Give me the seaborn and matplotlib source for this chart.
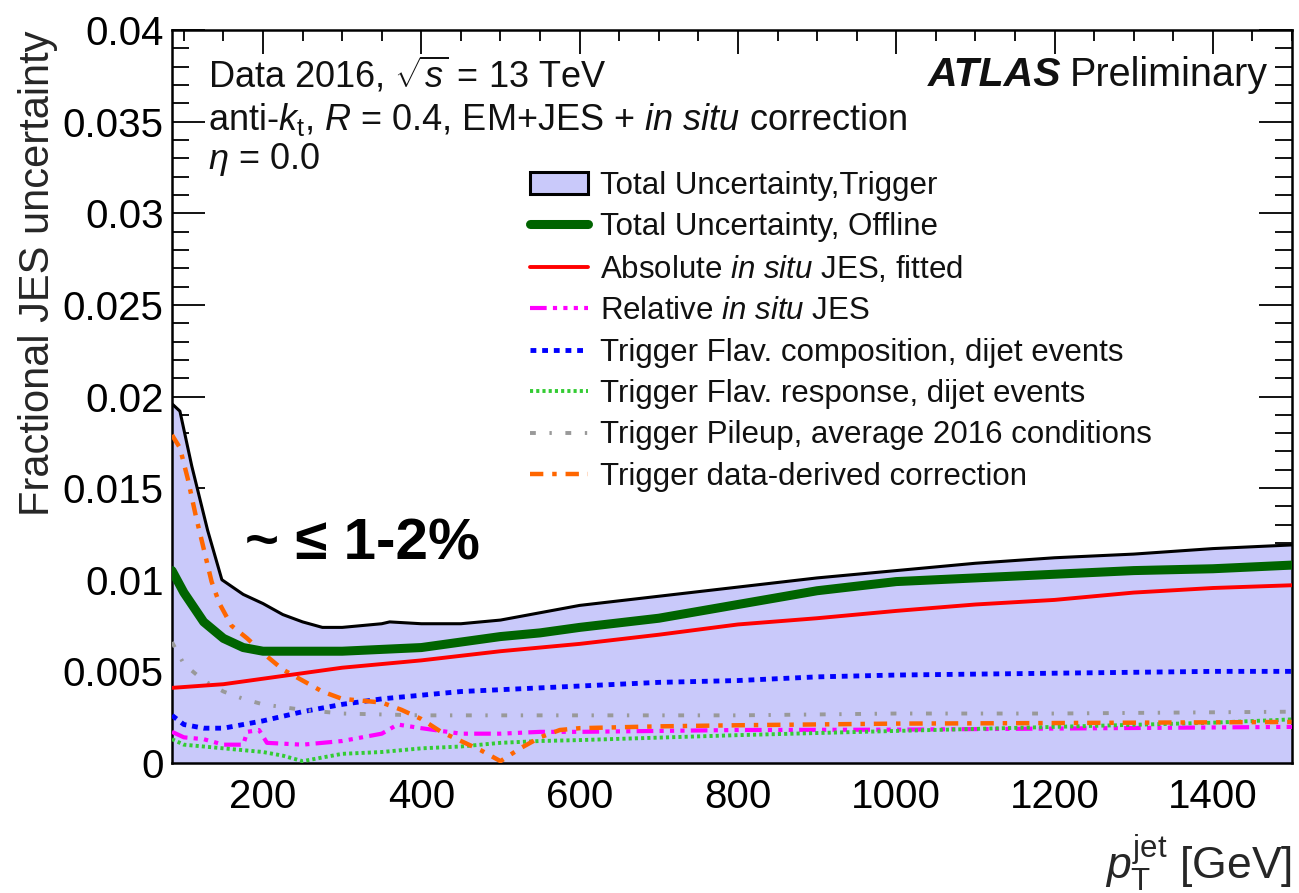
import matplotlib
matplotlib.use("Agg")
import matplotlib.pyplot as plt
import seaborn as sns
import numpy as np
import pandas as pd
from matplotlib.ticker import MultipleLocator
from matplotlib.patches import Patch
from matplotlib.lines import Line2D

# ---------------- data ----------------
pt_trig = [85, 95, 110, 130, 148, 175, 200, 225, 250, 275, 300, 325, 350, 360, 400, 450, 500, 550,
           600, 700, 800, 900, 1000, 1100, 1200, 1300, 1400, 1500]
total_trigger = [0.0196, 0.0192, 0.0162, 0.0127, 0.0100, 0.0092, 0.0087, 0.0081, 0.0077, 0.0074, 0.0074,
                 0.0075, 0.0076, 0.0077, 0.0076, 0.0076, 0.0078, 0.0082, 0.0086, 0.0091, 0.0096, 0.0101,
                 0.0105, 0.0109, 0.0112, 0.0114, 0.0117, 0.0119]

pt_off = [85, 100, 125, 150, 175, 200, 250, 300, 350, 400, 450, 500, 550, 600, 700, 800, 900, 1000,
          1100, 1200, 1300, 1400, 1500]
total_offline = [0.0105, 0.0093, 0.0077, 0.0068, 0.0063, 0.0061, 0.0061, 0.0061, 0.0062, 0.0063, 0.0066,
                 0.0069, 0.0071, 0.0074, 0.0079, 0.00865, 0.0094, 0.0099, 0.0101, 0.0103, 0.0105, 0.0106,
                 0.0108]

pt_abs = [85, 150, 200, 300, 400, 500, 600, 700, 800, 900, 1000, 1100, 1200, 1300, 1400, 1500]
abs_insitu = [0.0041, 0.0043, 0.0046, 0.0052, 0.0056, 0.0061, 0.0065, 0.0070, 0.00756, 0.0079, 0.0083,
              0.00865, 0.0089, 0.0093, 0.00955, 0.0097]

pt_rel = [85, 100, 125, 150, 175, 180, 195, 205, 250, 300, 350, 370, 400, 450, 500, 550, 600, 800,
          1000, 1200, 1500]
rel_insitu = [0.0017, 0.0014, 0.0013, 0.0010, 0.0010, 0.0017, 0.0018, 0.0011, 0.0010, 0.0012, 0.0016,
              0.0021, 0.0019, 0.0016, 0.0016, 0.0017, 0.0017, 0.0018, 0.00182, 0.00188, 0.00197]

pt_comp = [85, 100, 125, 150, 175, 200, 250, 300, 350, 400, 450, 500, 550, 600, 700, 800, 900, 1000,
           1200, 1400, 1500]
flav_comp = [0.0026, 0.0021, 0.0019, 0.0019, 0.0021, 0.0023, 0.0028, 0.0032, 0.0035, 0.0037, 0.0039,
             0.0040, 0.0041, 0.0042, 0.0044, 0.0045, 0.0047, 0.0048, 0.0049, 0.0050, 0.0050]

pt_resp = [85, 100, 150, 200, 225, 250, 275, 300, 350, 400, 450, 500, 550, 600, 800, 1000, 1200, 1400, 1500]
flav_resp = [0.0013, 0.0010, 0.0008, 0.0006, 0.0004, 0.0001, 0.0003, 0.0005, 0.0006, 0.0008, 0.0009,
             0.0011, 0.0012, 0.00125, 0.00152, 0.00175, 0.00197, 0.0022, 0.00238]

pt_pu = [85, 100, 125, 150, 175, 200, 250, 300, 400, 600, 800, 1000, 1200, 1500]
pileup = [0.0066, 0.0054, 0.0045, 0.0039, 0.0035, 0.0032, 0.0029, 0.0027, 0.0026, 0.0026, 0.0026,
          0.0027, 0.0027, 0.0028]

pt_dd = [85, 95, 105, 115, 125, 135, 145, 160, 180, 200, 225, 250, 275, 300, 325, 350, 375, 400, 425,
         450, 475, 500, 525, 550, 575, 600, 700, 800, 1000, 1200, 1500]
data_derived = [0.0179, 0.0172, 0.0155, 0.0135, 0.0117, 0.0099, 0.0087, 0.0075, 0.0068, 0.0060, 0.0051,
                0.0045, 0.0039, 0.0035, 0.0034, 0.0033, 0.0029, 0.0024, 0.0017, 0.0012, 0.0007, 0.0001,
                0.0008, 0.0014, 0.0018, 0.0019, 0.0020, 0.00206, 0.00215, 0.00218, 0.00224]

legend_labels = [
    "Total Uncertainty,Trigger",
    "Total Uncertainty, Offline",
    r"Absolute $\mathit{in\ situ}$ JES, fitted",
    r"Relative $\mathit{in\ situ}$ JES",
    "Trigger Flav. composition, dijet events",
    "Trigger Flav. response, dijet events",
    "Trigger Pileup, average 2016 conditions",
    "Trigger data-derived correction",
]
ytick_labels = ["0", "0.005", "0.01", "0.015", "0.02", "0.025", "0.03", "0.035", "0.04"]

# ---------------- style ----------------
sns.set_theme(style="ticks")
plt.rcParams["font.family"] = ["Liberation Sans", "DejaVu Sans"]
plt.rcParams["mathtext.fontset"] = "custom"
plt.rcParams["mathtext.rm"] = "Liberation Sans"
plt.rcParams["mathtext.it"] = "Liberation Sans:italic"
plt.rcParams["mathtext.bf"] = "Liberation Sans:bold"
plt.rcParams["mathtext.sf"] = "Liberation Sans"

W, H = 1299, 893
fig = plt.figure(figsize=(W / 100, H / 100), dpi=100)
L, R, T, B = 172, 1292, 30, 763
ax = fig.add_axes([L / W, 1 - B / H, (R - L) / W, (B - T) / H])


def ax_x(px):
    return (px - L) / (R - L)


def ax_y(py):
    return (B - py) / (B - T)


FILL = "#c9c9fa"

# Trigger total band
ax.fill_between(pt_trig, 0, total_trigger, color=FILL, lw=0, zorder=1)
sns.lineplot(x=pt_trig, y=total_trigger, ax=ax, color="black", lw=2.2, zorder=3)

styles = [
    (pt_off, total_offline, "#006400", 6.5, "-"),
    (pt_abs, abs_insitu, "#ff0000", 2.8, "-"),
    (pt_rel, rel_insitu, "#ff00ff", 3.0, (0, (4, 1.5, 1, 1.5, 1, 1.5, 1, 1.5))),
    (pt_comp, flav_comp, "#0000ff", 3.5, (0, (1.2, 1.2))),
    (pt_resp, flav_resp, "#33cc33", 2.8, (0, (0.8, 0.8))),
    (pt_pu, pileup, "#999999", 2.8, (0, (1.5, 3.5, 0.6, 3.5))),
    (pt_dd, data_derived, "#ff6600", 3.2, (0, (3, 2, 1, 2))),
]
order_z = [6, 5, 4, 4, 4, 4, 4]
for (x, y, c, lw, ls), z in zip(styles, order_z):
    df = pd.DataFrame({"pt": x, "v": y})
    line = sns.lineplot(data=df, x="pt", y="v", ax=ax, color=c, lw=lw, zorder=z)
    line.lines[-1].set_linestyle(ls)

ax.set_xlim(85, 1500)
ax.set_ylim(0, 0.04)
ax.xaxis.set_major_locator(MultipleLocator(200))
ax.xaxis.set_minor_locator(MultipleLocator(50))
ax.yaxis.set_minor_locator(MultipleLocator(0.001))
ax.set_yticks([0, 0.005, 0.01, 0.015, 0.02, 0.025, 0.03, 0.035, 0.04])
ax.set_yticklabels(ytick_labels)
ax.tick_params(axis="both", which="both", direction="in", top=True, right=True, colors="black",
               labelsize=29)
ax.tick_params(axis="y", which="major", length=24, width=1.3, pad=6)
ax.tick_params(axis="y", which="minor", length=12, width=1.3)
ax.tick_params(axis="x", which="major", length=17, width=1.3, pad=11)
ax.tick_params(axis="x", which="minor", length=8, width=1.3)
for s in ax.spines.values():
    s.set_linewidth(1.8)
    s.set_color("black")

ax.set_ylabel("Fractional JES uncertainty", fontsize=30, loc="top", labelpad=3)
ax.set_xlabel(r"$p_{\mathrm{T}}^{\mathrm{jet}}$ [GeV]", fontsize=32, loc="right", labelpad=12)

# text labels
tk = dict(transform=ax.transAxes, fontsize=26, color="#111111", va="center")
ax.text(ax_x(208), ax_y(75), r"Data 2016, $\sqrt{s}$ = 13 TeV", ha="left", **tk)
ax.text(ax_x(208), ax_y(120),
        r"anti-$k_{\mathrm{t}}$, $R$ = 0.4, EM+JES + $\mathit{in\ situ}$ correction", ha="left", **tk)
ax.text(ax_x(208), ax_y(160), r"$\eta$ = 0.0", ha="left", **tk)

prelim = ax.text(ax_x(1268), ax_y(75), "Preliminary", ha="right", transform=ax.transAxes,
                 fontsize=28.5, color="#111111", va="center")
fig.canvas.draw()
bb = prelim.get_window_extent(renderer=fig.canvas.get_renderer())
ax.text(bb.x0 - 8, (bb.y0 + bb.y1) / 2, "ATLAS", transform=None, ha="right", va="center",
        fontsize=29.5, fontweight="bold", fontstyle="italic", color="#111111")

ax.text(ax_x(245), ax_y(545), "~ ≤ 1-2%", transform=ax.transAxes, fontsize=42,
        fontweight="bold", color="black", ha="left", va="center")

# legend
handles = [
    Patch(facecolor=FILL, edgecolor="black", lw=2.2),
] + [Line2D([0], [0], color=c, lw=lw, ls=ls) for (_, _, c, lw, ls) in styles]
leg = ax.legend(handles, legend_labels, loc="upper left", bbox_to_anchor=(ax_x(530), ax_y(171)),
                frameon=False, fontsize=22.5, handlelength=1.85, handletextpad=0.4, labelspacing=0.365,
                borderpad=0, borderaxespad=0)
for t in leg.get_texts():
    t.set_color("#111111")

fig.savefig("out.png", dpi=100)
